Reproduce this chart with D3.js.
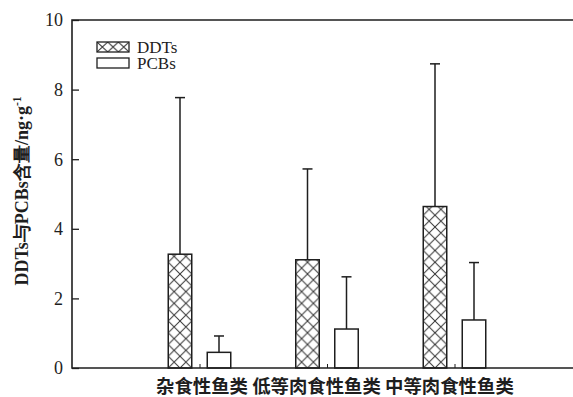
<!DOCTYPE html>
<html>
<head>
<meta charset="utf-8">
<script src="https://cdn.jsdelivr.net/npm/d3@7"></script>
<style>
  html, body { margin: 0; padding: 0; background: #fff; }
  svg { display: block; }
</style>
</head>
<body>
<div id="chart"></div>
<script>
// Fish feeding groups and mean contents (ng·g⁻¹) with upper error bars
const categories = ["杂食性鱼类", "低等肉食性鱼类", "中等肉食性鱼类"];
const ddtsMean = [3.27, 3.11, 4.64];
const ddtsErr  = [4.50, 2.61, 4.10];
const pcbsMean = [0.45, 1.12, 1.38];
const pcbsErr  = [0.47, 1.50, 1.65];
const yTicks = [0, 2, 4, 6, 8, 10];
const seriesNames = ["DDTs", "PCBs"];

const W = 573, H = 397;
const ink = "#1e1e1e";
const serif = "Liberation Serif, Times New Roman, Times, serif";

const svg = d3.select("#chart").append("svg")
  .attr("width", W).attr("height", H);

// Category positions sit at 1, 2, 3 on a linear axis that starts at 0
const x = d3.scaleLinear().domain([0, 4]).range([72, 582]);
const y = d3.scaleLinear().domain([0, 10]).range([368, 20]);

const barW = 23.5, offset = 19.5, capW = 10;

const groups = categories.map((c, i) => ({
  cat: c, pos: i + 1,
  bars: [
    { s: 0, v: ddtsMean[i], e: ddtsErr[i] },
    { s: 1, v: pcbsMean[i], e: pcbsErr[i] }
  ]
}));

const defs = svg.append("defs");
const cell = barW / 2;

// Cross-hatch pattern anchored to a given origin
function hatch(id, x0, y0, w, h) {
  const p = defs.append("pattern")
    .attr("id", id)
    .attr("patternUnits", "userSpaceOnUse")
    .attr("x", x0).attr("y", y0)
    .attr("width", w).attr("height", h);
  p.append("rect").attr("width", w).attr("height", h).attr("fill", "#fff");
  p.append("path")
    .attr("d", `M0,0L${w},${h}M${w},0L0,${h}`)
    .attr("stroke", "#333").attr("stroke-width", 1).attr("fill", "none");
}

// Bars
const plot = svg.append("g");
groups.forEach((g, i) => {
  g.bars.forEach(b => {
    const cx = x(g.pos) + (b.s === 0 ? -offset : offset);
    const x0 = cx - barW / 2;
    let fill = "#fff";
    if (b.s === 0) {
      hatch("hatch" + i, x0, y(0), cell, cell);
      fill = `url(#hatch${i})`;
    }
    // upper error bar
    plot.append("line")
      .attr("x1", cx).attr("x2", cx)
      .attr("y1", y(b.v)).attr("y2", y(b.v + b.e))
      .attr("stroke", ink).attr("stroke-width", 1.5);
    plot.append("line")
      .attr("x1", cx - capW / 2).attr("x2", cx + capW / 2)
      .attr("y1", y(b.v + b.e)).attr("y2", y(b.v + b.e))
      .attr("stroke", ink).attr("stroke-width", 1.5);
    plot.append("rect")
      .attr("x", x0).attr("y", y(b.v))
      .attr("width", barW).attr("height", y(0) - y(b.v))
      .attr("fill", fill)
      .attr("stroke", ink).attr("stroke-width", 1.5);
  });
});

// Y axis with inward ticks
const yAxis = svg.append("g")
  .attr("transform", `translate(${x(0)},0)`)
  .call(d3.axisRight(y).tickValues(yTicks).tickSize(7).tickFormat(""));
yAxis.select(".domain").remove();
yAxis.selectAll(".tick line").attr("stroke", ink).attr("stroke-width", 1.3);

svg.selectAll(".ylab").data(yTicks).enter().append("text")
  .attr("x", 63).attr("y", d => y(d))
  .attr("dy", "0.35em")
  .attr("text-anchor", "end")
  .style("font-family", serif).attr("font-size", 18)
  .attr("fill", ink)
  .text(d => d);

// Frame: left axis, top line, bottom axis
svg.append("path")
  .attr("d", `M${W},${y(10)}H${x(0)}V${y(0)}H${W}`)
  .attr("fill", "none").attr("stroke", ink).attr("stroke-width", 1.6);

// Small inward ticks at category centres
const xAxis = svg.append("g")
  .attr("transform", `translate(0,${y(0)})`)
  .call(d3.axisTop(x).tickValues([1, 2, 3]).tickSize(4).tickFormat(""));
xAxis.select(".domain").remove();
xAxis.selectAll(".tick line").attr("stroke", ink).attr("stroke-width", 1);

// Category labels set as one line below the axis
svg.append("text")
  .attr("x", 156).attr("y", 393)
  .style("font-family", "Noto Sans CJK SC, sans-serif")
  .attr("font-weight", 700)
  .attr("font-size", 18.4)
  .attr("fill", ink)
  .text(categories.join(" "));

// Y axis title
const yt = svg.append("text")
  .attr("transform", "translate(28,191) rotate(-90)")
  .attr("text-anchor", "middle")
  .style("font-family", serif)
  .attr("font-weight", 700)
  .attr("font-size", 18)
  .attr("fill", ink);
yt.append("tspan").text("DDTs与PCBs含量/ng·g");
yt.append("tspan").attr("font-size", 11.5).attr("dy", -7).text("-1");

// Legend: swatches plus a two-line label block
hatch("hatchLegend", 97, 42, 10.7, 10);
const legend = svg.append("g");
const rowGap = 16;
seriesNames.forEach((name, i) => {
  legend.append("rect")
    .attr("x", 97).attr("y", 42 + i * rowGap)
    .attr("width", 32).attr("height", 10)
    .attr("fill", i === 0 ? "url(#hatchLegend)" : "#fff")
    .attr("stroke", ink).attr("stroke-width", 1.3);
});
legend.append("text")
  .style("font-family", serif).attr("font-size", 17)
  .attr("fill", ink)
  .selectAll("tspan").data(seriesNames).enter().append("tspan")
  .attr("x", 137).attr("y", (d, i) => 52.5 + i * rowGap)
  .text(d => d);
</script>
</body>
</html>
